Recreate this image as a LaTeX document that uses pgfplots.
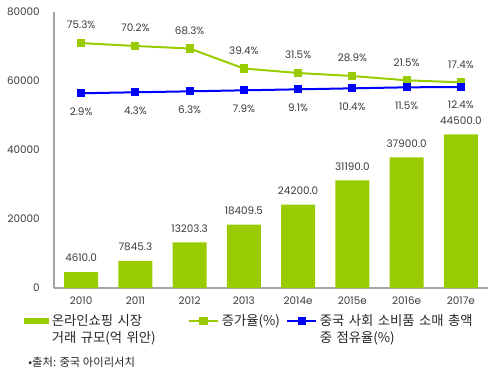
\documentclass[border=0pt]{standalone}
\usepackage{pgfplots}
\usepackage{pgfplotstable}
\pgfplotsset{compat=1.18}
\usepackage{fontspec}
\setmainfont{Poppins}
\newfontfamily\kr{Noto Sans CJK KR}
\definecolor{grn}{RGB}{153,204,0}
\definecolor{blu}{RGB}{0,0,255}
\definecolor{txt}{RGB}{60,60,60}
\definecolor{axc}{RGB}{165,165,165}

\pgfplotstableread{
x bar barlab gr grlab bl bllab
0 4610.0 4610.0 71000 75.3 56450 2.9
1 7845.3 7845.3 70150 70.2 56730 4.3
2 13203.3 13203.3 69420 68.3 57010 6.3
3 18409.5 18409.5 63620 39.4 57300 7.9
4 24200.0 24200.0 62320 31.5 57590 9.1
5 31190.0 31190.0 61450 28.9 57880 10.4
6 37900.0 37900.0 60200 21.5 58170 11.5
7 44500.0 44500.0 59620 17.4 58260 12.4
}\data

\begin{document}
\begin{tikzpicture}
\begin{axis}[
  width=325.5pt, height=207pt, scale only axis,
  xmin=-0.5, xmax=7.5, ymin=0, ymax=80000,
  xtick={0,...,7},
  xticklabels={2010,2011,2012,2013,2014e,2015e,2016e,2017e},
  ytick={0,20000,40000,60000,80000},
  scaled y ticks=false,
  axis lines=left,
  axis line style={-, draw=axc, line width=0.9pt},
  tick style={draw=none},
  /pgf/number format/.cd, fixed, 1000 sep={}, assume math mode=true,
  /pgfplots/.cd,
  tick label style={font=\fontsize{7.8}{9}\selectfont, text=txt},
  yticklabel style={xshift=-5pt},
  xticklabel style={yshift=-1pt},
  clip=false,
  legend style={at={(rel axis cs:-0.07,-0.085)}, anchor=north west,
    draw=none, fill=none, inner sep=0pt, legend columns=3,
    cells={align=left}, font=\kr\fontsize{10}{12.5}\selectfont,
    text=black!85},
]
\addplot[ybar, bar width=25.5pt, fill=grn, draw=none,
  nodes near coords, point meta=explicit symbolic,
  every node near coord/.append style={anchor=center, yshift=10.5pt,
    font=\fontsize{7.8}{9}\selectfont, text=txt},
  legend image code/.code={\fill[grn] (0pt,-2pt) rectangle (19pt,2pt);}]
  table[x=x, y=bar, meta=barlab] {\data};
\addlegendentry[text width=100pt]{온라인쇼핑 시장\\거래 규모(억 위안)}
\addplot[grn, line width=1.5pt, mark=square*, mark size=2.3pt,
  nodes near coords={\pgfplotspointmeta\%}, point meta=explicit symbolic,
  every node near coord/.append style={anchor=center, yshift=13.5pt,
    font=\fontsize{7.8}{9}\selectfont, text=txt},
  legend image code/.code={\draw[grn, line width=1.5pt] (0pt,0pt) -- (22pt,0pt);
    \fill[grn] (8.7pt,-2.3pt) rectangle (13.3pt,2.3pt);}]
  table[x=x, y=gr, meta=grlab] {\data};
\addlegendentry[text width=46pt]{증가율(\%)}
\addplot[blu, line width=1.5pt, mark=square*, mark size=2.3pt,
  nodes near coords={\pgfplotspointmeta\%}, point meta=explicit symbolic,
  every node near coord/.append style={anchor=center, yshift=-13.5pt,
    font=\fontsize{7.8}{9}\selectfont, text=txt},
  legend image code/.code={\draw[blu, line width=1.5pt] (0pt,0pt) -- (22pt,0pt);
    \fill[blu] (8.7pt,-2.3pt) rectangle (13.3pt,2.3pt);}]
  table[x=x, y=bl, meta=bllab] {\data};
\addlegendentry[text width=130pt]{중국 사회 소비품 소매 총액\\중 점유율(\%)}
\node[anchor=west, font=\kr\fontsize{8.5}{10}\selectfont, text=black!85]
  at (rel axis cs:-0.07,-0.268) {•출처: 중국 아이리서치};
\coordinate (bbsw) at (rel axis cs:-0.1244,-0.3225);
\coordinate (bbne) at (rel axis cs:1.0276,1.0435);
\end{axis}
\pgfresetboundingbox
\path (bbsw) rectangle (bbne);
\end{tikzpicture}
\end{document}
